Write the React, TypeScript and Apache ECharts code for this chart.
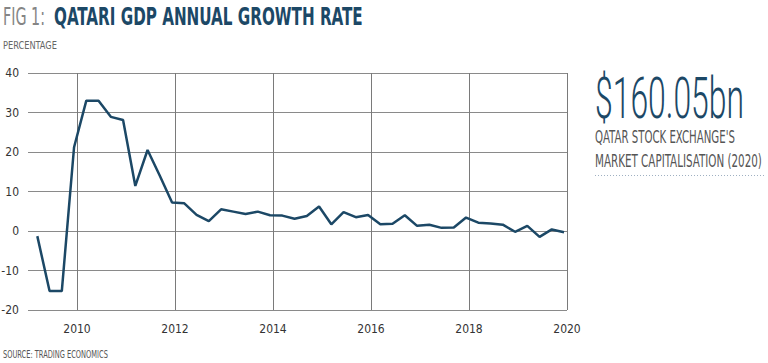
import React, { useEffect, useRef } from "react";
import * as echarts from "echarts";

// Quarterly periods (2009 Q1 – 2019 Q4)
const periods: string[] = [
  "2009Q1", "2009Q2", "2009Q3", "2009Q4",
  "2010Q1", "2010Q2", "2010Q3", "2010Q4",
  "2011Q1", "2011Q2", "2011Q3", "2011Q4",
  "2012Q1", "2012Q2", "2012Q3", "2012Q4",
  "2013Q1", "2013Q2", "2013Q3", "2013Q4",
  "2014Q1", "2014Q2", "2014Q3", "2014Q4",
  "2015Q1", "2015Q2", "2015Q3", "2015Q4",
  "2016Q1", "2016Q2", "2016Q3", "2016Q4",
  "2017Q1", "2017Q2", "2017Q3", "2017Q4",
  "2018Q1", "2018Q2", "2018Q3", "2018Q4",
  "2019Q1", "2019Q2", "2019Q3", "2019Q4",
];

// GDP annual growth rate (%)
const growth: number[] = [
  -1.3, -15.2, -15.2, 21.2,
  33.0, 33.0, 28.9, 28.1,
  11.4, 20.5, 14.0, 7.2,
  7.0, 4.1, 2.5, 5.5,
  4.9, 4.3, 4.9, 4.0,
  3.9, 3.1, 3.8, 6.2,
  1.7, 4.8, 3.5, 4.05,
  1.7, 1.85, 4.0, 1.3,
  1.6, 0.8, 0.9, 3.4,
  2.1, 1.9, 1.6, -0.2,
  1.3, -1.5, 0.4, -0.3,
];

const yearTicks: number[] = [2010, 2012, 2014, 2016, 2018, 2020];
const yTicks = { min: -20, max: 40, step: 10 };

const TITLE_PREFIX = "FIG 1:";
const TITLE_MAIN = "QATARI GDP ANNUAL GROWTH RATE";
const UNIT = "PERCENTAGE";
const SOURCE = "SOURCE: TRADING ECONOMICS";
const BIG_FIGURE = "$160.05bn";
const NOTE_1 = "QATAR STOCK EXCHANGE'S";
const NOTE_2 = "MARKET CAPITALISATION (2020)";

const FONT = "'Liberation Sans Narrow', 'DejaVu Sans Condensed', 'Roboto', sans-serif";
const LIGHT_FONT = "'Roboto', 'Lato', 'Open Sans', sans-serif";
const BLUE = "#1c4866";

function toX(p: string): number {
  const y = parseInt(p.slice(0, 4), 10);
  const q = parseInt(p.slice(5), 10);
  return y + (q - 1) * 0.25 + 0.19;
}

let measureCtx: CanvasRenderingContext2D | null = null;
function measure(text: string, font: string): number {
  if (!measureCtx) measureCtx = document.createElement("canvas").getContext("2d");
  if (!measureCtx) return 1;
  measureCtx.font = font;
  return measureCtx.measureText(text).width || 1;
}

function fitText(text: string, x: number, y: number, font: string, fill: string, targetWidth: number) {
  const w = measure(text, font);
  return {
    type: "text",
    x,
    y,
    scaleX: targetWidth / w,
    silent: true,
    style: {
      text,
      font,
      fill,
      align: "left",
      verticalAlign: "middle",
      textAlign: "left",
      textVerticalAlign: "middle",
    },
  };
}

export default function App() {
  const ref = useRef<HTMLDivElement>(null);

  useEffect(() => {
    if (!ref.current) return;
    const chart = echarts.init(ref.current, undefined, { renderer: "svg" });

    const data = periods.map((p, i) => [toX(p), growth[i]]);

    const titleMainFont = `bold 24px ${FONT}`;
    const titlePrefixFont = `24px ${FONT}`;
    const bigFont = `300 58px ${LIGHT_FONT}`;
    const noteFont = `17px ${FONT}`;
    const smallFont = `11px ${FONT}`;

    chart.setOption({
      animation: false,
      grid: { left: 28, right: 201, top: 73, bottom: 53, containLabel: false, outerBoundsMode: "none" },
      xAxis: {
        type: "value",
        min: 2009,
        max: 2020,
        interval: 1,
        axisLine: { show: false },
        axisTick: { show: false, customValues: yearTicks },
        axisLabel: {
          customValues: yearTicks,
          margin: 13,
          color: "#333",
          fontFamily: FONT,
          fontSize: 12,
          formatter: (v: number) => String(v),
        },
        splitLine: { show: true, lineStyle: { color: "#7a7a7a", width: 1 } },
      },
      yAxis: {
        type: "value",
        min: yTicks.min,
        max: yTicks.max,
        interval: yTicks.step,
        axisLine: { show: false },
        axisTick: { show: false },
        axisLabel: { margin: 9, color: "#333", fontFamily: FONT, fontSize: 12 },
        splitLine: { show: true, lineStyle: { color: "#8a8a8a", width: 1 } },
      },
      series: [
        {
          type: "line",
          data,
          showSymbol: false,
          symbol: "none",
          lineStyle: { color: BLUE, width: 2.5 },
          z: 5,
        },
      ],
      graphic: [
        fitText(TITLE_PREFIX, 3, 17, titlePrefixFont, "#858585", 42),
        fitText(TITLE_MAIN, 54, 17, titleMainFont, BLUE, 309),
        fitText(UNIT, 3, 45, smallFont, "#666", 54),
        fitText(SOURCE, 3, 354, smallFont, "#555", 105),
        fitText(BIG_FIGURE, 595, 98, bigFont, BLUE, 149),
        fitText(NOTE_1, 595, 137, noteFont, "#555", 140),
        fitText(NOTE_2, 595, 161, noteFont, "#555", 167),
        {
          type: "line",
          silent: true,
          shape: { x1: 595, y1: 175.5, x2: 765, y2: 175.5 },
          style: { stroke: "#9fb0c2", lineWidth: 1, lineDash: [1, 2] },
        },
      ],
    });

    return () => chart.dispose();
  }, []);

  return (
    <div
      ref={ref}
      style={{ position: "absolute", left: 0, top: 0, width: 768, height: 363, background: "#fff" }}
    />
  );
}
